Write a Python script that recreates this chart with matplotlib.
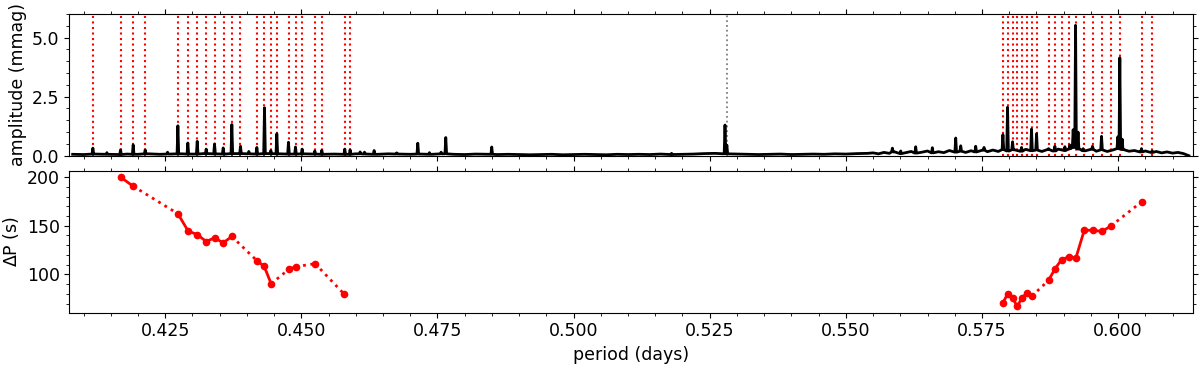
import numpy as np
import matplotlib
matplotlib.use("Agg")
from matplotlib import pyplot as plt
from matplotlib.ticker import AutoMinorLocator

plt.rcParams['font.size'] = 12.5

# amplitude spectrum: noise floor
floor_left_start, floor_left_step = 0.408, 0.002
floor_left = [0.06, 0.05, 0.07, 0.06, 0.05, 0.07, 0.06, 0.08, 0.06, 0.07,
              0.08, 0.07, 0.09, 0.08, 0.07, 0.09, 0.08, 0.07, 0.09, 0.08,
              0.07, 0.08, 0.07, 0.06, 0.07, 0.06, 0.08, 0.07, 0.06, 0.08,
              0.07, 0.06, 0.07, 0.06, 0.08, 0.06, 0.05, 0.07, 0.06, 0.05,
              0.06, 0.05, 0.04, 0.05, 0.06, 0.04, 0.05, 0.06, 0.05, 0.04,
              0.06, 0.05, 0.06, 0.05, 0.07, 0.05, 0.06, 0.07, 0.09, 0.10,
              0.08, 0.07, 0.06, 0.05, 0.06, 0.07, 0.05, 0.06, 0.07, 0.06,
              0.08, 0.07, 0.09, 0.10]
floor_right_start, floor_right_step = 0.555, 0.001
floor_right = [0.12, 0.08, 0.14, 0.10, 0.16, 0.09, 0.13, 0.18, 0.11, 0.15,
               0.20, 0.12, 0.17, 0.13, 0.22, 0.15, 0.19, 0.14, 0.21, 0.16,
               0.23, 0.17, 0.24, 0.18, 0.26, 0.20, 0.25, 0.19, 0.27, 0.21,
               0.24, 0.18, 0.26, 0.20, 0.28, 0.22, 0.30, 0.35, 0.28, 0.21,
               0.27, 0.19, 0.25, 0.18, 0.24, 0.30, 0.26, 0.19, 0.22, 0.16,
               0.20, 0.14, 0.18, 0.12, 0.16, 0.11, 0.14, 0.09, 0.0]

# spectrum peaks (period in days, amplitude in mmag)
peak_period = [0.41172, 0.41429, 0.4168, 0.41912, 0.42133, 0.42543, 0.42733,
               0.42916, 0.43088, 0.43253, 0.43406, 0.43565, 0.43724, 0.43883,
               0.44036, 0.44183, 0.44324, 0.4444, 0.4455, 0.44764, 0.44893,
               0.45015, 0.45248, 0.45376, 0.45798, 0.45896, 0.4608, 0.4616,
               0.46337, 0.46753, 0.47139, 0.47353, 0.47567, 0.47653, 0.48497,
               0.5180, 0.52781, 0.52815, 0.55855, 0.56008, 0.56283, 0.56589,
               0.57018, 0.5711, 0.57385, 0.57538, 0.57885, 0.5797, 0.58062,
               0.58227, 0.5841, 0.58503, 0.58723, 0.58839, 0.59023, 0.59115,
               0.59175, 0.59219, 0.59265, 0.59359, 0.5953, 0.59696, 0.59995,
               0.60032, 0.60075, 0.6043, 0.60626]
peak_amp = [0.32, 0.13, 0.25, 0.46, 0.25, 0.15, 1.27,
            0.54, 0.61, 0.28, 0.50, 0.33, 1.32, 0.40,
            0.18, 0.35, 2.03, 0.22, 0.93, 0.57, 0.37,
            0.28, 0.20, 0.23, 0.28, 0.25, 0.16, 0.15,
            0.22, 0.12, 0.53, 0.13, 0.15, 0.77, 0.37,
            0.10, 1.30, 0.45, 0.32, 0.20, 0.38, 0.34,
            0.75, 0.42, 0.40, 0.35, 0.89, 2.05, 0.59,
            0.35, 1.13, 0.93, 0.30, 0.40, 0.38, 0.45,
            1.10, 5.52, 1.00, 0.30, 0.40, 0.82, 0.80,
            4.15, 0.70, 0.30, 0.20]

# identified modes (red) and the grey line
mode_period = [0.41172, 0.4168, 0.41912, 0.42133, 0.42739, 0.42922, 0.43088,
               0.43253, 0.43412, 0.43571, 0.4373, 0.43883, 0.44189, 0.44318,
               0.44446, 0.44556, 0.4477, 0.44899, 0.45021, 0.45254, 0.45382,
               0.45805, 0.45896,
               0.57885, 0.5797, 0.58062, 0.58148, 0.58233, 0.58325, 0.58417,
               0.58509, 0.58723, 0.58839, 0.58962, 0.5909, 0.59225, 0.59378,
               0.59537, 0.59702, 0.59867, 0.60039, 0.60436, 0.60632]
grey_period = 0.52812

# period spacings
dp_period = [0.4168, 0.41912, 0.42733, 0.42922, 0.43088, 0.43253, 0.43407,
             0.43565, 0.43724, 0.44189, 0.44318, 0.44446, 0.4477, 0.44899,
             0.45254, 0.45793,
             0.57885, 0.5797, 0.58062, 0.58148, 0.58233, 0.58325, 0.58417,
             0.58723, 0.58839, 0.58962, 0.5909, 0.59225, 0.59378, 0.59537,
             0.59702, 0.59867, 0.60436]
dp_value = [200.0, 190.7, 162.4, 144.5, 141.0, 133.8, 137.6,
            132.4, 139.0, 113.8, 108.3, 90.3, 105.2, 107.9,
            111.0, 79.3,
            70.7, 79.7, 75.5, 67.2, 75.5, 81.0, 77.6,
            93.8, 105.5, 115.2, 117.9, 116.9, 145.2, 145.5,
            144.1, 149.7, 174.8]
# link to next point: '-' consecutive, ':' skipped, None no link
dp_link = ['-', ':', '-', '-', '-', '-', '-', '-', ':', '-', '-', ':', '-', ':', ':',
           None,
           '-', '-', '-', '-', '-', '-', ':', '-', '-', '-', '-', '-', '-', '-', '-', ':']

# build the spectrum line
fx = list(floor_left_start + floor_left_step * np.arange(len(floor_left)))
fy = list(floor_left)
fx += list(floor_right_start + floor_right_step * np.arange(len(floor_right)))
fy += list(floor_right)
fx = np.array(fx)
fy = np.array(fy)
keep = np.ones(len(fx), bool)
sx, sy = [], []
w = 0.00015
for p, a in zip(peak_period, peak_amp):
    i = np.argmin(abs(fx - p))
    b = fy[i]
    sx += [p - w, p, p + w]
    sy += [b, a, b]
    keep[abs(fx - p) < w * 1.5] = False
sx = np.concatenate([fx[keep], sx])
sy = np.concatenate([fy[keep], sy])
order = np.argsort(sx)
sx, sy = sx[order], sy[order]

fig = plt.figure(figsize=(12, 3.69), dpi=100)
ax1 = fig.add_axes([0.0578, 0.578, 0.9361, 0.384])
ax2 = fig.add_axes([0.0578, 0.1526, 0.9361, 0.3848], sharex=ax1)

for p in mode_period:
    ax1.axvline(p, color='red', ls=':', lw=1.5, zorder=1)
ax1.axvline(grey_period, color='grey', ls=':', lw=1.3, zorder=1)
ax1.plot(sx, sy, color='black', lw=2, zorder=2)
ax1.set_ylim(0, 6.0)
ax1.set_yticks([0.0, 2.5, 5.0])
ax1.set_ylabel('amplitude (mmag)')

for i in range(len(dp_period) - 1):
    if dp_link[i] is None:
        continue
    ax2.plot(dp_period[i:i + 2], dp_value[i:i + 2], color='red',
             ls=dp_link[i], lw=2)
ax2.plot(dp_period, dp_value, 'o', color='red', ms=4.5)
ax2.set_ylabel(r'$\Delta$P (s)')
ax2.set_xlabel('period (days)')

ax1.set_xlim(0.4074, 0.6137)
ax2.set_xticks([0.425, 0.45, 0.475, 0.5, 0.525, 0.55, 0.575, 0.6])
for ax in (ax1, ax2):
    ax.xaxis.set_minor_locator(AutoMinorLocator())
    ax.yaxis.set_minor_locator(AutoMinorLocator())
    ax.tick_params(which='both', direction='out', top=True, right=True)
ax1.tick_params(labelbottom=False)
fig.align_ylabels([ax1, ax2])

plt.savefig('out.png', dpi=100)
